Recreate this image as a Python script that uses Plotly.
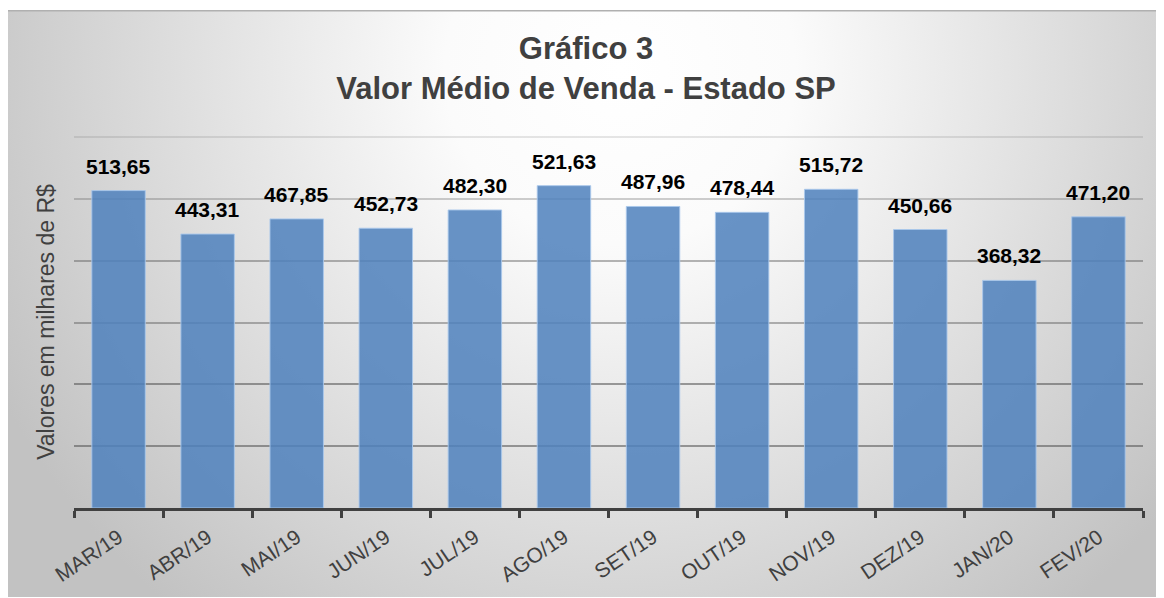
import base64
import plotly.graph_objects as go

# ---- data ----
categories = ["MAR/19", "ABR/19", "MAI/19", "JUN/19", "JUL/19", "AGO/19",
              "SET/19", "OUT/19", "NOV/19", "DEZ/19", "JAN/20", "FEV/20"]
values = [513.65, 443.31, 467.85, 452.73, 482.30, 521.63,
          487.96, 478.44, 515.72, 450.66, 368.32, 471.20]
value_labels = ["513,65", "443,31", "467,85", "452,73", "482,30", "521,63",
                "487,96", "478,44", "515,72", "450,66", "368,32", "471,20"]
title_lines = ["Gráfico 3", "Valor Médio de Venda - Estado SP"]
y_title = "Valores em milhares de R$"
grid_groups = [[100, 200], [300, 400], [500], [600]]
grid_colors = ["rgba(80,80,80,0.55)", "rgba(80,80,80,0.42)",
               "rgba(80,80,80,0.28)", "rgba(80,80,80,0.14)"]

# page body has an 8px margin, so the figure is 8px smaller and shifted
W, H = 1156, 590
L, R, T, B = 66, 21, 128, 90
plot_w = W - L - R
plot_h = H - T - B
y_range = [0, 602]
x_range = [-0.5, len(categories) - 0.5]

# background: radial grey gradient of the chart area (drawn as an SVG image)
cx0, cy0, cw, ch = 0, 2, W, H - 3
svg = f'''<svg xmlns="http://www.w3.org/2000/svg" width="{cw}" height="{ch}" viewBox="0 0 {cw} {ch}" preserveAspectRatio="none">
<defs><radialGradient id="g" gradientUnits="userSpaceOnUse" cx="{612-cx0}" cy="{62-cy0}" r="700">
<stop offset="0" stop-color="#ffffff"/><stop offset="0.25" stop-color="#fbfbfb"/>
<stop offset="1" stop-color="#c2c2c2"/></radialGradient></defs>
<rect x="0" y="0" width="{cw}" height="{ch}" fill="url(#g)"/>
<line x1="0" y1="0.8" x2="{cw}" y2="0.8" stroke="#b0b0b0" stroke-width="1.6"/>
</svg>'''
src = "data:image/svg+xml;base64," + base64.b64encode(svg.encode()).decode()

fig = go.Figure()
fig.add_trace(go.Bar(
    x=categories, y=values, width=0.6,
    marker=dict(color="rgba(79,129,189,0.86)",
                line=dict(color="rgba(170,200,235,0.9)", width=1)),
    hoverinfo="x+y",
))
# empty helper traces so the overlaid grid-only y axes get drawn
for i in range(2, len(grid_groups) + 1):
    fig.add_trace(go.Scatter(x=[categories[0]], y=[None], yaxis=f"y{i}",
                             mode="markers", showlegend=False,
                             hoverinfo="skip"))

for c, v, t in zip(categories, values, value_labels):
    fig.add_annotation(x=c, y=v, text=t, showarrow=False, yanchor="bottom",
                       yshift=11, font=dict(family="Liberation Sans", size=21,
                                             color="#000000", weight="bold"))

fig.add_layout_image(dict(
    source=src, xref="paper", yref="paper",
    x=(cx0 - L) / plot_w, y=(H - B - cy0) / plot_h,
    sizex=cw / plot_w, sizey=ch / plot_h,
    xanchor="left", yanchor="top", sizing="stretch", layer="below",
))

fig.update_layout(
    width=W, height=H,
    margin=dict(l=L, r=R, t=T, b=B, autoexpand=False),
    paper_bgcolor="#ffffff", plot_bgcolor="rgba(0,0,0,0)",
    showlegend=False, bargap=0.4,
    title=dict(text="<br>".join(title_lines), x=0.5, xanchor="center",
               y=1 - 51 / H, yanchor="top", yref="container",
               font=dict(family="Liberation Sans", size=31, color="#404040",
                         weight="bold")),
    font=dict(family="Liberation Sans", color="#404040"),
)
fig.update_xaxes(
    range=x_range, autorange=False,
    showline=True, linecolor="#404040", linewidth=3,
    ticks="outside", tickson="boundaries", ticklen=7, tickwidth=2.5,
    tickcolor="#404040", tickangle=-34, showgrid=False,
    tickfont=dict(family="Liberation Sans", size=21, color="#404040"),
    ticklabelstandoff=6,
)
fig.update_yaxes(
    range=y_range, tickvals=grid_groups[0],
    showticklabels=False, showline=False,
    gridcolor=grid_colors[0], gridwidth=1.6, zeroline=False,
    title=dict(text=y_title, standoff=11,
               font=dict(family="Liberation Sans", size=23, color="#404040")),
)
# extra overlaid y axes only to draw the fading gridlines
for i, (vals, col) in enumerate(zip(grid_groups[1:], grid_colors[1:]), start=2):
    fig.update_layout({f"yaxis{i}": dict(
        overlaying="y", range=y_range, tickvals=vals, showticklabels=False,
        showline=False, zeroline=False, gridcolor=col, gridwidth=1.6,
        showgrid=True, ticks="")})

fig.write_html("out.html")
